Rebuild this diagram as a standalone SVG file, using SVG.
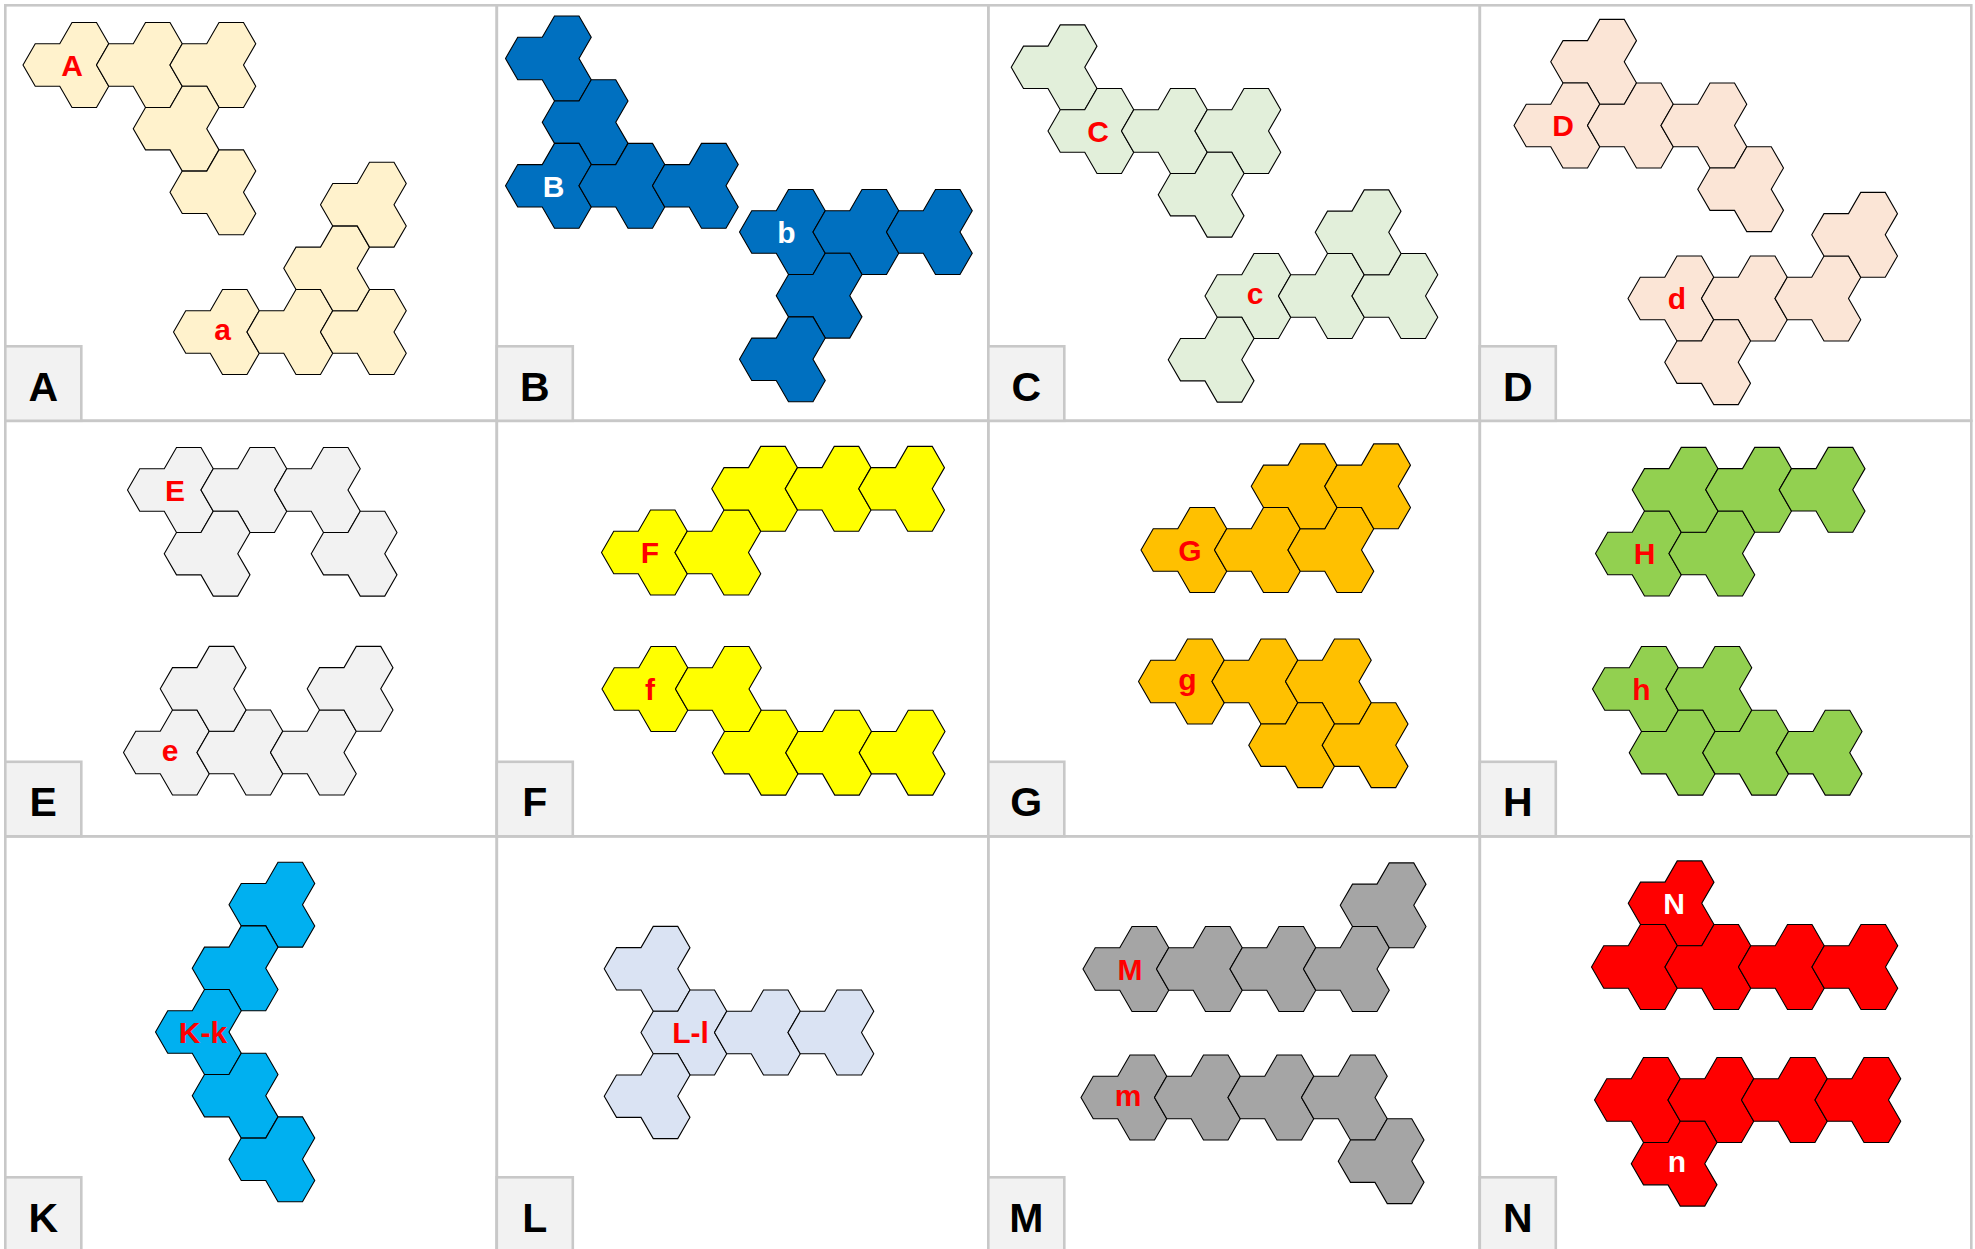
<svg xmlns="http://www.w3.org/2000/svg" xmlns:xlink="http://www.w3.org/1999/xlink" width="1975" height="1249" viewBox="0 0 1975 1249">
<style>
.frame{fill:none;stroke:#C8C8C8;stroke-width:2.6}
.tag{fill:#F2F2F2;stroke:#C8C8C8;stroke-width:2.6}
.tagt{font-family:"Liberation Sans",Arial,sans-serif;font-weight:bold;font-size:41px;fill:#000;text-anchor:middle}
.pc{stroke:#000;stroke-width:1.1;stroke-linejoin:miter}
.lbl{font-family:"Liberation Sans",Arial,sans-serif;font-weight:bold;font-size:30px;fill:#FF0000;text-anchor:middle}
.lw{fill:#FFFFFF}
.cA{fill:#FFF2CC}.cB{fill:#0070C0}.cC{fill:#E2EFDA}.cD{fill:#FBE5D6}
.cE{fill:#F2F2F2}.cF{fill:#FFFF00}.cG{fill:#FFC000}.cH{fill:#92D050}
.cK{fill:#00B0F0}.cL{fill:#DAE3F3}.cM{fill:#A5A5A5}.cN{fill:#FF0000}
</style>
<defs>
<path id="p" d="M-49,0 L-36.75,-21.22 L-12.25,-21.22 L0,-42.44 L24.5,-42.44 L36.75,-21.22 L24.5,0 L36.75,21.22 L24.5,42.44 L0,42.44 L-12.25,21.22 L-36.75,21.22 Z"/>
</defs>
<rect width="1975" height="1249" fill="#FFFFFF"/>

<g id="grid">
<rect class="frame" x="5.3" y="5.3" width="491.5" height="415.5"/>
<rect class="frame" x="496.8" y="5.3" width="491.5" height="415.5"/>
<rect class="frame" x="988.3" y="5.3" width="491.5" height="415.5"/>
<rect class="frame" x="1479.8" y="5.3" width="491.5" height="415.5"/>
<rect class="frame" x="5.3" y="420.8" width="491.5" height="415.5"/>
<rect class="frame" x="496.8" y="420.8" width="491.5" height="415.5"/>
<rect class="frame" x="988.3" y="420.8" width="491.5" height="415.5"/>
<rect class="frame" x="1479.8" y="420.8" width="491.5" height="415.5"/>
<rect class="frame" x="5.3" y="836.3" width="491.5" height="415.5"/>
<rect class="frame" x="496.8" y="836.3" width="491.5" height="415.5"/>
<rect class="frame" x="988.3" y="836.3" width="491.5" height="415.5"/>
<rect class="frame" x="1479.8" y="836.3" width="491.5" height="415.5"/>
</g>

<g id="panel-A" class="cA">
<use id="A1" class="pc" href="#p" x="72" y="65"/>
<use id="A2" class="pc" href="#p" x="145.5" y="65"/>
<use id="A3" class="pc" href="#p" x="219" y="65"/>
<use id="A4" class="pc" href="#p" x="182.25" y="128.65"/>
<use id="A5" class="pc" href="#p" x="219" y="192.3"/>
<use id="a1" class="pc" href="#p" x="222.5" y="332"/>
<use id="a2" class="pc" href="#p" x="296" y="332"/>
<use id="a3" class="pc" href="#p" x="369.5" y="332"/>
<use id="a4" class="pc" href="#p" x="332.75" y="268.35"/>
<use id="a5" class="pc" href="#p" x="369.5" y="204.7"/>
<text class="lbl" x="72" y="75.7">A</text>
<text class="lbl" x="222.5" y="340">a</text>
<rect class="tag" x="5.3" y="346.3" width="76" height="74.5"/>
<text class="tagt" x="43.3" y="400.5">A</text>
</g>

<g id="panel-B" class="cB">
<use id="B1" class="pc" href="#p" x="554.5" y="58.5"/>
<use id="B2" class="pc" href="#p" x="591.25" y="122.15"/>
<use id="B3" class="pc" href="#p" x="554.5" y="185.8"/>
<use id="B4" class="pc" href="#p" x="628" y="185.8"/>
<use id="B5" class="pc" href="#p" x="701.5" y="185.8"/>
<use id="b1" class="pc" href="#p" x="788.5" y="232"/>
<use id="b2" class="pc" href="#p" x="862" y="232"/>
<use id="b3" class="pc" href="#p" x="935.5" y="232"/>
<use id="b4" class="pc" href="#p" x="825.25" y="295.65"/>
<use id="b5" class="pc" href="#p" x="788.5" y="359.3"/>
<text class="lbl lw" x="553.5" y="196.5">B</text>
<text class="lbl lw" x="786.5" y="242.7">b</text>
<rect class="tag" x="496.8" y="346.3" width="76" height="74.5"/>
<text class="tagt" x="534.8" y="400.5">B</text>
</g>

<g id="panel-C" class="cC">
<use id="C1" class="pc" href="#p" x="1060.25" y="67.35"/>
<use id="C2" class="pc" href="#p" x="1097" y="131"/>
<use id="C3" class="pc" href="#p" x="1170.5" y="131"/>
<use id="C4" class="pc" href="#p" x="1244" y="131"/>
<use id="C5" class="pc" href="#p" x="1207.25" y="194.65"/>
<use id="c1" class="pc" href="#p" x="1254" y="296"/>
<use id="c2" class="pc" href="#p" x="1327.5" y="296"/>
<use id="c3" class="pc" href="#p" x="1401" y="296"/>
<use id="c4" class="pc" href="#p" x="1364.25" y="232.35"/>
<use id="c5" class="pc" href="#p" x="1217.25" y="359.65"/>
<text class="lbl" x="1098" y="141.7">C</text>
<text class="lbl" x="1255" y="304">c</text>
<rect class="tag" x="988.3" y="346.3" width="76" height="74.5"/>
<text class="tagt" x="1026.3" y="400.5">C</text>
</g>

<g id="panel-D" class="cD">
<use id="D1" class="pc" href="#p" x="1599.75" y="61.85"/>
<use id="D2" class="pc" href="#p" x="1563" y="125.5"/>
<use id="D3" class="pc" href="#p" x="1636.5" y="125.5"/>
<use id="D4" class="pc" href="#p" x="1710" y="125.5"/>
<use id="D5" class="pc" href="#p" x="1746.75" y="189.15"/>
<use id="d1" class="pc" href="#p" x="1677" y="298.5"/>
<use id="d2" class="pc" href="#p" x="1750.5" y="298.5"/>
<use id="d3" class="pc" href="#p" x="1824" y="298.5"/>
<use id="d4" class="pc" href="#p" x="1860.75" y="234.85"/>
<use id="d5" class="pc" href="#p" x="1713.75" y="362.15"/>
<text class="lbl" x="1563" y="136.2">D</text>
<text class="lbl" x="1677" y="309">d</text>
<rect class="tag" x="1479.8" y="346.3" width="76" height="74.5"/>
<text class="tagt" x="1517.8" y="400.5">D</text>
</g>

<g id="panel-E" class="cE">
<use id="E1" class="pc" href="#p" x="176.5" y="490"/>
<use id="E2" class="pc" href="#p" x="250" y="490"/>
<use id="E3" class="pc" href="#p" x="323.5" y="490"/>
<use id="E4" class="pc" href="#p" x="213.25" y="553.65"/>
<use id="E5" class="pc" href="#p" x="360.25" y="553.65"/>
<use id="e1" class="pc" href="#p" x="172.5" y="752.5"/>
<use id="e2" class="pc" href="#p" x="246" y="752.5"/>
<use id="e3" class="pc" href="#p" x="319.5" y="752.5"/>
<use id="e4" class="pc" href="#p" x="209.25" y="688.85"/>
<use id="e5" class="pc" href="#p" x="356.25" y="688.85"/>
<text class="lbl" x="175" y="500.7">E</text>
<text class="lbl" x="170" y="760.5">e</text>
<rect class="tag" x="5.3" y="761.8" width="76" height="74.5"/>
<text class="tagt" x="43.3" y="816">E</text>
</g>

<g id="panel-F" class="cF">
<use id="F1" class="pc" href="#p" x="650.5" y="552.5"/>
<use id="F2" class="pc" href="#p" x="724" y="552.5"/>
<use id="F3" class="pc" href="#p" x="760.75" y="488.85"/>
<use id="F4" class="pc" href="#p" x="834.25" y="488.85"/>
<use id="F5" class="pc" href="#p" x="907.75" y="488.85"/>
<use id="f1" class="pc" href="#p" x="651" y="689"/>
<use id="f2" class="pc" href="#p" x="724.5" y="689"/>
<use id="f3" class="pc" href="#p" x="761.25" y="752.65"/>
<use id="f4" class="pc" href="#p" x="834.75" y="752.65"/>
<use id="f5" class="pc" href="#p" x="908.25" y="752.65"/>
<text class="lbl" x="650" y="563.2">F</text>
<text class="lbl" x="650" y="699.7">f</text>
<rect class="tag" x="496.8" y="761.8" width="76" height="74.5"/>
<text class="tagt" x="534.8" y="816">F</text>
</g>

<g id="panel-G" class="cG">
<use id="G1" class="pc" href="#p" x="1190" y="550"/>
<use id="G2" class="pc" href="#p" x="1263.5" y="550"/>
<use id="G3" class="pc" href="#p" x="1337" y="550"/>
<use id="G4" class="pc" href="#p" x="1300.25" y="486.35"/>
<use id="G5" class="pc" href="#p" x="1373.75" y="486.35"/>
<use id="g1" class="pc" href="#p" x="1187.5" y="681.5"/>
<use id="g2" class="pc" href="#p" x="1261" y="681.5"/>
<use id="g3" class="pc" href="#p" x="1334.5" y="681.5"/>
<use id="g4" class="pc" href="#p" x="1297.75" y="745.15"/>
<use id="g5" class="pc" href="#p" x="1371.25" y="745.15"/>
<text class="lbl" x="1190" y="560.7">G</text>
<text class="lbl" x="1187.5" y="689.5">g</text>
<rect class="tag" x="988.3" y="761.8" width="76" height="74.5"/>
<text class="tagt" x="1026.3" y="816">G</text>
</g>

<g id="panel-H" class="cH">
<use id="H1" class="pc" href="#p" x="1644.5" y="553.5"/>
<use id="H2" class="pc" href="#p" x="1718" y="553.5"/>
<use id="H3" class="pc" href="#p" x="1681.25" y="489.85"/>
<use id="H4" class="pc" href="#p" x="1754.75" y="489.85"/>
<use id="H5" class="pc" href="#p" x="1828.25" y="489.85"/>
<use id="h1" class="pc" href="#p" x="1641.5" y="689"/>
<use id="h2" class="pc" href="#p" x="1715" y="689"/>
<use id="h3" class="pc" href="#p" x="1678.25" y="752.65"/>
<use id="h4" class="pc" href="#p" x="1751.75" y="752.65"/>
<use id="h5" class="pc" href="#p" x="1825.25" y="752.65"/>
<text class="lbl" x="1644.5" y="564.2">H</text>
<text class="lbl" x="1641.5" y="699.7">h</text>
<rect class="tag" x="1479.8" y="761.8" width="76" height="74.5"/>
<text class="tagt" x="1517.8" y="816">H</text>
</g>

<g id="panel-K" class="cK">
<use id="K1" class="pc" href="#p" x="278" y="904.7"/>
<use id="K2" class="pc" href="#p" x="241.25" y="968.35"/>
<use id="K3" class="pc" href="#p" x="204.5" y="1032"/>
<use id="K4" class="pc" href="#p" x="241.25" y="1095.65"/>
<use id="K5" class="pc" href="#p" x="278" y="1159.3"/>
<text class="lbl" x="203" y="1043">K-k</text>
<rect class="tag" x="5.3" y="1177.3" width="76" height="74.5"/>
<text class="tagt" x="43.3" y="1231.5">K</text>
</g>

<g id="panel-L" class="cL">
<use id="L1" class="pc" href="#p" x="653.25" y="968.85"/>
<use id="L2" class="pc" href="#p" x="690" y="1032.5"/>
<use id="L3" class="pc" href="#p" x="763.5" y="1032.5"/>
<use id="L4" class="pc" href="#p" x="837" y="1032.5"/>
<use id="L5" class="pc" href="#p" x="653.25" y="1096.15"/>
<text class="lbl" x="690.5" y="1043">L-l</text>
<rect class="tag" x="496.8" y="1177.3" width="76" height="74.5"/>
<text class="tagt" x="534.8" y="1231.5">L</text>
</g>

<g id="panel-M" class="cM">
<use id="M1" class="pc" href="#p" x="1132" y="969"/>
<use id="M2" class="pc" href="#p" x="1205.5" y="969"/>
<use id="M3" class="pc" href="#p" x="1279" y="969"/>
<use id="M4" class="pc" href="#p" x="1352.5" y="969"/>
<use id="M5" class="pc" href="#p" x="1389.25" y="905.35"/>
<use id="m1" class="pc" href="#p" x="1130" y="1097.5"/>
<use id="m2" class="pc" href="#p" x="1203.5" y="1097.5"/>
<use id="m3" class="pc" href="#p" x="1277" y="1097.5"/>
<use id="m4" class="pc" href="#p" x="1350.5" y="1097.5"/>
<use id="m5" class="pc" href="#p" x="1387.25" y="1161.15"/>
<text class="lbl" x="1130" y="979.7">M</text>
<text class="lbl" x="1128" y="1105.5">m</text>
<rect class="tag" x="988.3" y="1177.3" width="76" height="74.5"/>
<text class="tagt" x="1026.3" y="1231.5">M</text>
</g>

<g id="panel-N" class="cN">
<use id="N1" class="pc" href="#p" x="1677.25" y="903.35"/>
<use id="N2" class="pc" href="#p" x="1640.5" y="967"/>
<use id="N3" class="pc" href="#p" x="1714" y="967"/>
<use id="N4" class="pc" href="#p" x="1787.5" y="967"/>
<use id="N5" class="pc" href="#p" x="1861" y="967"/>
<use id="n1" class="pc" href="#p" x="1643.5" y="1100"/>
<use id="n2" class="pc" href="#p" x="1717" y="1100"/>
<use id="n3" class="pc" href="#p" x="1790.5" y="1100"/>
<use id="n4" class="pc" href="#p" x="1864" y="1100"/>
<use id="n5" class="pc" href="#p" x="1680.25" y="1163.65"/>
<text class="lbl lw" x="1674" y="914">N</text>
<text class="lbl lw" x="1677" y="1172">n</text>
<rect class="tag" x="1479.8" y="1177.3" width="76" height="74.5"/>
<text class="tagt" x="1517.8" y="1231.5">N</text>
</g>
</svg>
